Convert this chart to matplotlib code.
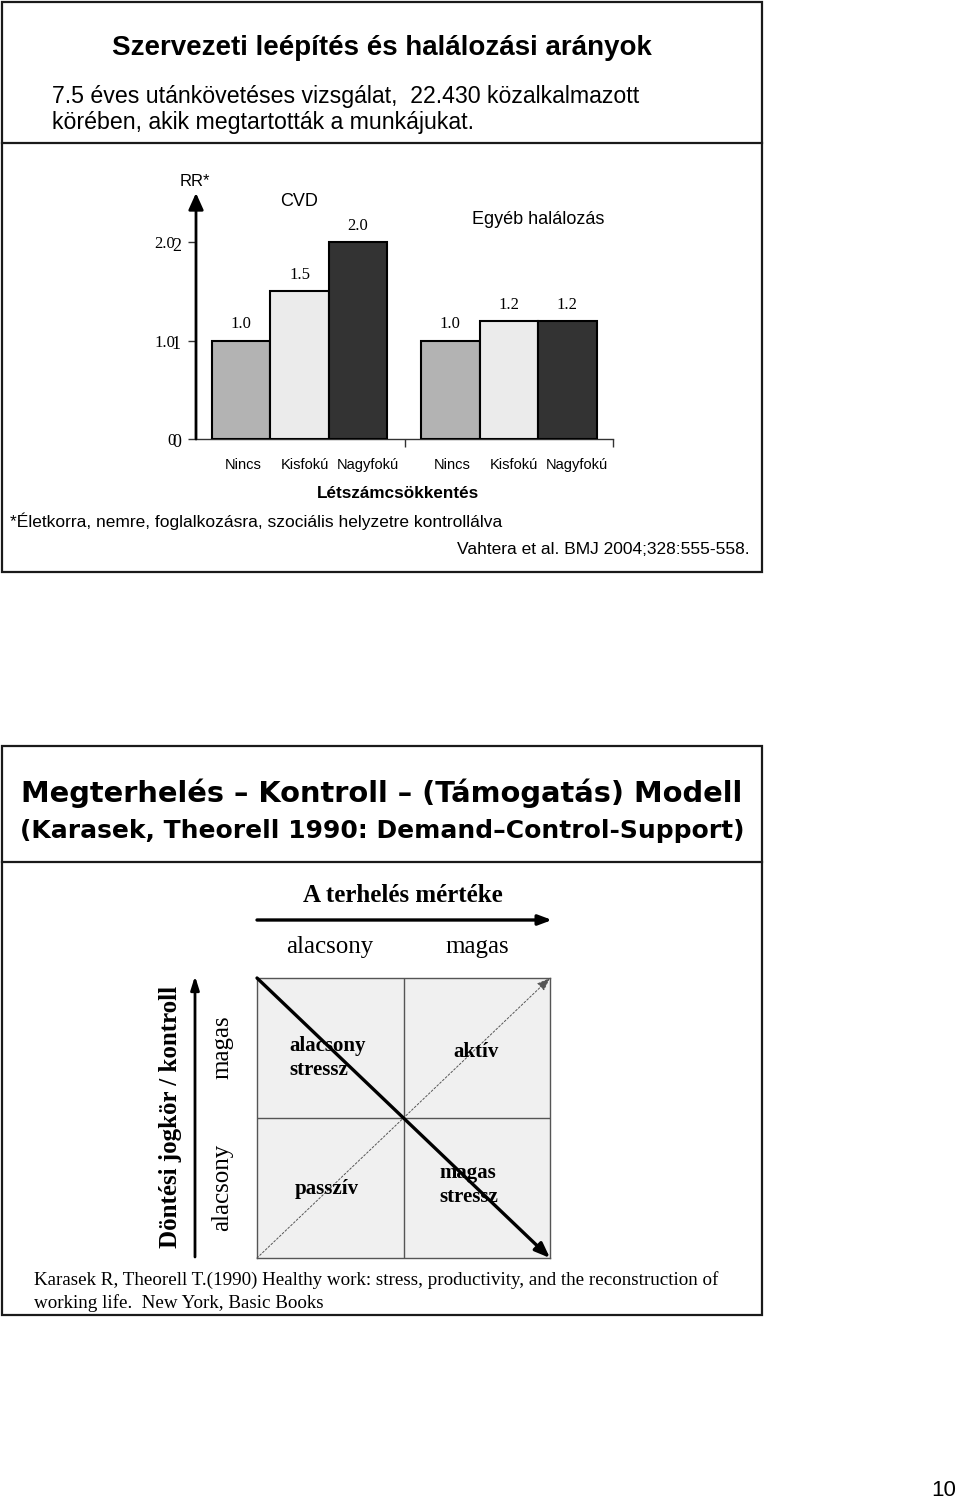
import matplotlib.pyplot as plt
from matplotlib import font_manager
from matplotlib.patches import Rectangle

W, H = 960, 1501

# --- data ---
levels = ['Nincs', 'Kisfokú', 'Nagyfokú']
groups = ['CVD', 'Egyéb halálozás']
cvd_rr = [1.0, 1.5, 2.0]
other_rr = [1.0, 1.2, 1.2]
bar_colors = ['#b3b3b3', '#ebebeb', '#333333']
yticks = [0, 1, 2]
ytick_labels = ['0', '1.0', '2.0']
ytick_overlay = ['0', '1', '2']

demand_levels = ['alacsony', 'magas']
control_levels = ['alacsony', 'magas']
quadrants = ['alacsony\nstressz', 'aktív', 'passzív', 'magas\nstressz']

SANS = ['Liberation Sans', 'DejaVu Sans']
SERIF = ['Liberation Serif', 'DejaVu Serif']
WIDE = ['DejaVu Sans']

# the slide title looks condensed; use the narrow face if it is installed
installed = {f.name for f in font_manager.fontManager.ttflist}
if 'Liberation Sans Narrow' in installed:
    title_font, title_size = ['Liberation Sans Narrow'], 24
else:
    title_font, title_size = SANS, 20

fig = plt.figure(figsize=(W / 100, H / 100), dpi=100)

# page in pixel coordinates for boxes and free text (drawn on top)
page = fig.add_axes([0, 0, 1, 1])
page.set_xlim(0, W)
page.set_ylim(H, 0)
page.axis('off')
page.set_zorder(10)


def px_axes(x0, y0, x1, y1):
    return fig.add_axes([x0 / W, 1 - y1 / H, (x1 - x0) / W, (y1 - y0) / H])


def slide(top, sep, bottom):
    page.add_patch(Rectangle((2, top), 760, bottom - top, fill=False,
                             lw=1.6, ec='#1a1a1a'))
    page.plot([2, 762], [sep, sep], color='#1a1a1a', lw=1.6)


# ---------------- slide 1 ----------------
slide(2, 143, 572)
page.text(382, 48, 'Szervezeti leépítés és halálozási arányok', ha='center',
          va='center', fontsize=title_size, fontweight='bold',
          family=title_font)
page.text(52, 96, '7.5 éves utánkövetéses vizsgálat,  22.430 közalkalmazott',
          ha='left', va='center', fontsize=16.7, family=SANS)
page.text(52, 122, 'körében, akik megtartották a munkájukat.',
          ha='left', va='center', fontsize=16.7, family=SANS)

ax = px_axes(196, 193, 613, 439)
ax.set_xlim(0, 7.13)
ax.set_ylim(0, 2.5)
starts = [0.27, 3.85]
label_shift = [0.03, 0.09, 0.17]
label_pos = []
for start, vals in zip(starts, [cvd_rr, other_rr]):
    xs = [start + 0.5 + i for i in range(len(vals))]
    label_pos += [x + s for x, s in zip(xs, label_shift)]
    ax.bar(xs, vals, width=1, color=bar_colors, edgecolor='black',
           linewidth=1.5, zorder=3)
    for x, v in zip(xs, vals):
        ax.annotate(f'{v:.1f}', (x, v), xytext=(0, 6),
                    textcoords='offset points', ha='center', va='bottom',
                    fontsize=12, family=SERIF)

for side in ['top', 'right', 'left']:
    ax.spines[side].set_visible(False)
ax.spines['bottom'].set_color('#333333')
ax.spines['bottom'].set_linewidth(1)
ax.annotate('', xy=(0, 1.0), xytext=(0, 0), xycoords='axes fraction',
            arrowprops=dict(arrowstyle='-|>,head_width=0.45,head_length=1.0',
                            lw=2, color='black', shrinkA=0, shrinkB=0))

ax.set_yticks(yticks, ytick_labels, fontsize=12, family=SERIF)
ax.tick_params(axis='y', length=6, width=1, pad=9, color='#333333')
for y, lab in zip(yticks, ytick_overlay):
    ax.text(-0.036, y - 0.04, lab, transform=ax.get_yaxis_transform(),
            ha='right', va='center', fontsize=13, family=SERIF)

ax.set_xticks([3.57, 7.13], ['', ''])
ax.tick_params(axis='x', which='major', length=6, width=1, color='#333333')
ax.set_xticks(label_pos, levels * 2, minor=True, fontsize=10.5, family=SANS)
ax.tick_params(axis='x', which='minor', length=0, pad=14)
ax.patch.set_alpha(0)

page.text(195, 182, 'RR*', ha='center', va='center', fontsize=12, family=SANS)
page.text(299, 201, groups[0], ha='center', va='center', fontsize=13,
          family=SANS)
page.text(538, 220, groups[1], ha='center', va='center', fontsize=13,
          family=SANS)
page.text(398, 494, 'Létszámcsökkentés', ha='center', va='center',
          fontsize=12.3, fontweight='bold', family=SANS)
page.text(10, 521, '*Életkorra, nemre, foglalkozásra, szociális helyzetre '
          'kontrollálva', ha='left', va='center', fontsize=12.5, family=SANS)
page.text(750, 549, 'Vahtera et al. BMJ 2004;328:555-558.', ha='right',
          va='center', fontsize=12.5, family=SANS)

# ---------------- slide 2 ----------------
slide(746, 862, 1315)
page.text(382, 793, 'Megterhelés – Kontroll – (Támogatás) Modell', ha='center',
          va='center', fontsize=20.8, fontweight='bold', family=WIDE)
page.text(382, 831, '(Karasek, Theorell 1990: Demand–Control-Support)',
          ha='center', va='center', fontsize=18, fontweight='bold',
          family=WIDE)

dx = px_axes(257, 978, 550, 1258)
dx.set_xlim(0, 2)
dx.set_ylim(0, 2)
dx.set_facecolor('#f0f0f0')
for s in dx.spines.values():
    s.set_color('#555555')
    s.set_linewidth(1)
dx.set_xticks([])
dx.set_yticks([])
dx.axvline(1, color='#555555', lw=1)
dx.axhline(1, color='#555555', lw=1)
dx.annotate('', xy=(2, 2), xytext=(0, 0),
            arrowprops=dict(arrowstyle='-|>,head_width=0.3,head_length=0.8',
                            lw=0.7, ls=(0, (2, 2)), color='#555555',
                            shrinkA=0, shrinkB=0))
dx.annotate('', xy=(2, 0), xytext=(0, 2),
            arrowprops=dict(arrowstyle='-|>,head_width=0.35,head_length=0.9',
                            lw=2.4, color='black', shrinkA=0, shrinkB=0))

bold_serif = dict(fontsize=15, fontweight='bold', family=SERIF)
page.text(289, 1058, quadrants[0], ha='left', va='center', linespacing=1.3,
          **bold_serif)
page.text(476, 1052, quadrants[1], ha='center', va='center', **bold_serif)
page.text(327, 1189, quadrants[2], ha='center', va='center', **bold_serif)
page.text(439, 1185, quadrants[3], ha='left', va='center', linespacing=1.3,
          **bold_serif)

page.text(403, 896, 'A terhelés mértéke', ha='center', va='center',
          fontsize=18, fontweight='bold', family=SERIF)
page.annotate('', xy=(552, 920), xytext=(257, 920),
              arrowprops=dict(arrowstyle='-|>,head_width=0.3,head_length=0.8',
                              lw=2.4, color='black', shrinkA=0, shrinkB=0))
page.text(330, 947, demand_levels[0], ha='center', va='center', fontsize=18,
          family=SERIF)
page.text(477, 947, demand_levels[1], ha='center', va='center', fontsize=18,
          family=SERIF)

page.annotate('', xy=(195, 976), xytext=(195, 1257),
              arrowprops=dict(arrowstyle='-|>,head_width=0.25,head_length=0.8',
                              lw=2, color='black', shrinkA=0, shrinkB=0))
page.text(170, 1117, 'Döntési jogkör / kontroll', ha='center', va='center',
          rotation=90, fontsize=18, fontweight='bold', family=SERIF)
page.text(222, 1047, control_levels[1], ha='center', va='center', rotation=90,
          fontsize=18, family=SERIF)
page.text(222, 1187, control_levels[0], ha='center', va='center', rotation=90,
          fontsize=18, family=SERIF)

page.text(34, 1280, 'Karasek R, Theorell T.(1990) Healthy work: stress, '
          'productivity, and the reconstruction of', ha='left', va='center',
          fontsize=13.7, family=SERIF)
page.text(34, 1303, 'working life.  New York, Basic Books', ha='left',
          va='center', fontsize=13.7, family=SERIF)

page.text(944, 1490, '10', ha='center', va='center', fontsize=16, family=SANS)

fig.savefig('out.png', dpi=100)
